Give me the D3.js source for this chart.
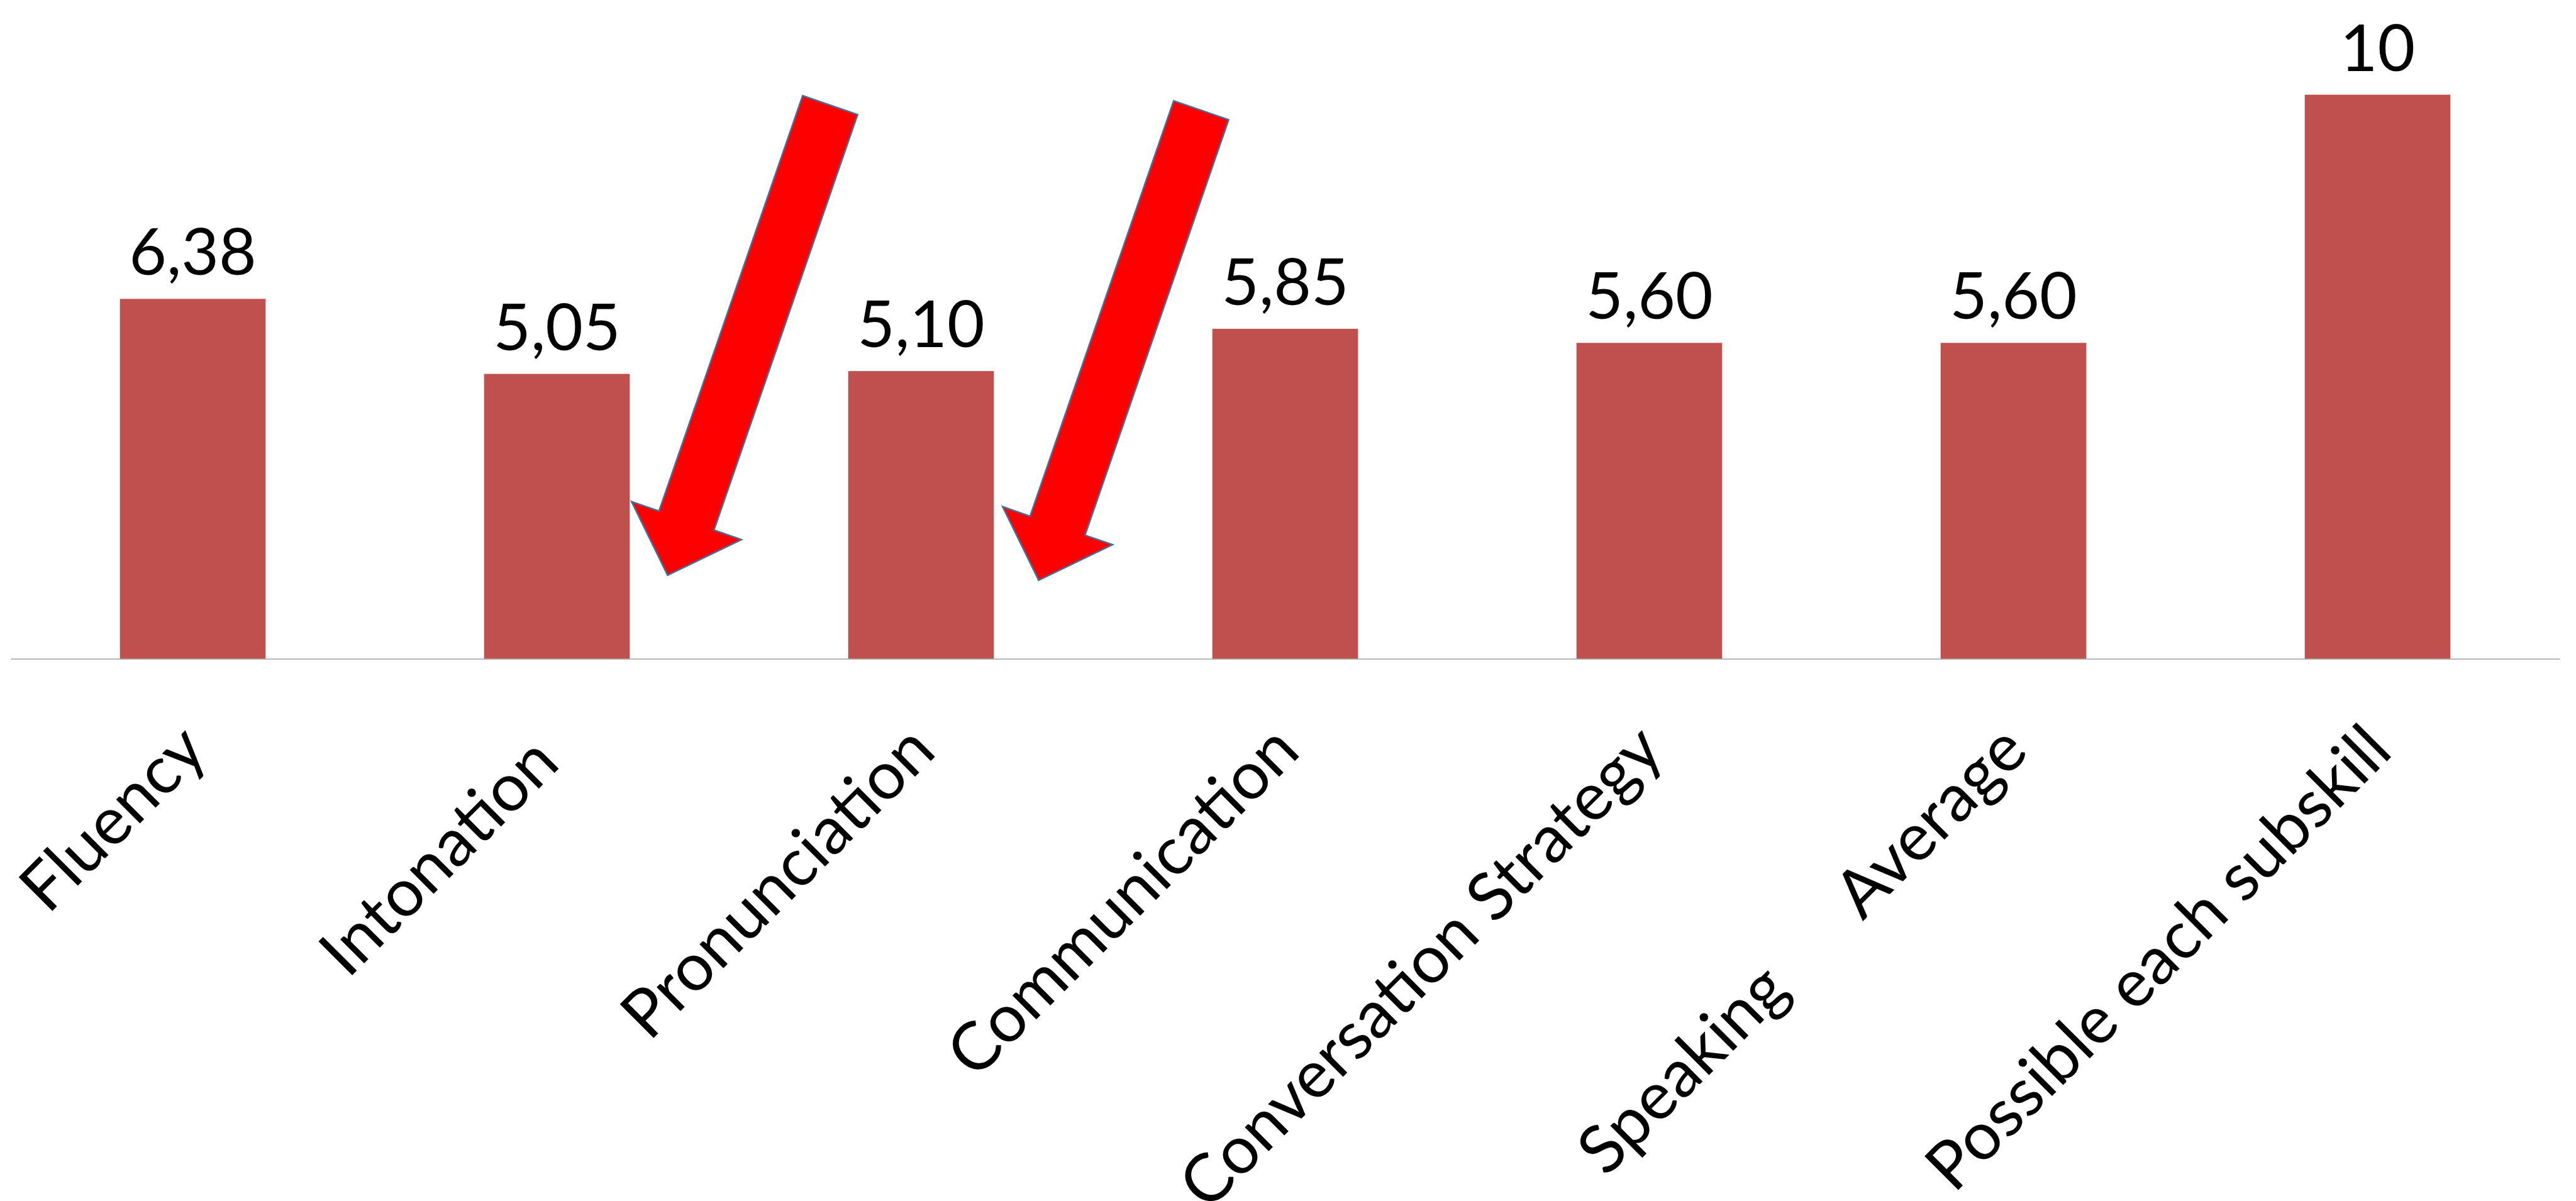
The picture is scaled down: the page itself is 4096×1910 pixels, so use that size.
<!DOCTYPE html>
<html><head><meta charset="utf-8">
<script src="https://cdn.jsdelivr.net/npm/d3@7"></script>
<style>
html,body{margin:0;padding:0;background:#fff;overflow:hidden}
text{font-family:Lato,"Open Sans",sans-serif;fill:#000}
</style>
</head><body>
<svg id="chart" width="4096" height="1910"></svg>
<script>
// ---- data ----
const categories = ["Fluency","Intonation","Pronunciation","Communication","Conversation Strategy","Speaking Average","Possible each subskill"];
const tickLabels = ["Fluency","Intonation ","Pronunciation","Communication","Conversation Strategy","Speaking      Average","Possible each subskill"];
const values = [6.38, 5.05, 5.10, 5.85, 5.60, 5.60, 10];
const valueLabels = ["6,38","5,05","5,10","5,85","5,60","5,60","10"];
// annotation arrows: category they sit beside, tip height (value units), tip offset from category centre (in steps)
const arrowCategories = ["Intonation","Pronunciation"];
const arrowTipValues = [1.48, 1.39];
const arrowTipSteps = [0.304, 0.323];

// ---- layout ----
const W = 4096, H = 1910;
const axisY = 1047.6, topY = 150.6;
const svg = d3.select("#chart");

const x = d3.scaleBand().domain(categories).range([17, 4070]).paddingInner(0.6).paddingOuter(0.3);
const y = d3.scaleLinear().domain([0, 10]).range([axisY, topY]);

// bars
svg.append("g").selectAll("rect").data(categories).join("rect")
  .attr("x", d => x(d))
  .attr("y", (d,i) => y(values[i]))
  .attr("width", x.bandwidth())
  .attr("height", (d,i) => y(0) - y(values[i]))
  .attr("fill", "#C0504D");

// axis line
const xAxis = d3.axisBottom(x).tickSize(0).tickFormat((d,i) => tickLabels[i]);
const gx = svg.append("g").attr("transform", `translate(0,${y(0)})`).call(xAxis);
gx.select(".domain").attr("stroke", "#8c8c8c").attr("stroke-width", 1.3);
gx.selectAll(".tick text")
  .attr("font-family", "Lato")
  .attr("font-size", 106)
  .attr("fill", "#000")
  .style("white-space", "pre")
  .attr("text-anchor", "end")
  .attr("x", 0).attr("y", 0).attr("dy", null)
  .attr("transform", "translate(27,151) rotate(-45)");

// value labels
svg.append("g").selectAll("text").data(categories).join("text")
  .attr("x", d => x(d) + x.bandwidth()/2)
  .attr("y", (d,i) => y(values[i]) - 38)
  .attr("text-anchor", "middle")
  .attr("font-size", 103)
  .text((d,i) => valueLabels[i]);

// arrows
const arrowLen = 791, shaftW = 92.5, headW = 185, headL = 92, arrowAngle = 109.07;
function arrowShape() {
  const p = d3.path();
  p.moveTo(-arrowLen, -shaftW/2);
  p.lineTo(-headL, -shaftW/2);
  p.lineTo(-headL, -headW/2);
  p.lineTo(0, 0);
  p.lineTo(-headL, headW/2);
  p.lineTo(-headL, shaftW/2);
  p.lineTo(-arrowLen, shaftW/2);
  p.closePath();
  return p.toString();
}
svg.append("g").selectAll("path").data(arrowCategories).join("path")
  .attr("d", arrowShape())
  .attr("transform", (d,i) => {
    const tx = x(d) + x.bandwidth()/2 + arrowTipSteps[i]*x.step();
    const ty = y(arrowTipValues[i]);
    return `translate(${tx},${ty}) rotate(${arrowAngle})`;
  })
  .attr("fill", "#FF0000")
  .attr("stroke", "#41719C")
  .attr("stroke-width", 2.5)
  .attr("stroke-linejoin", "miter");
</script>
</body></html>
